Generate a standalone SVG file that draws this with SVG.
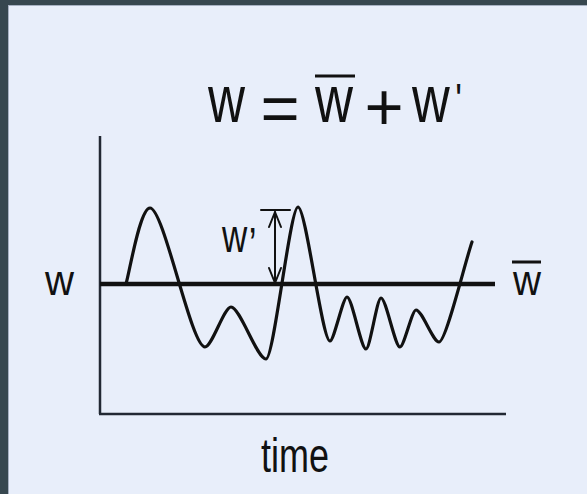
<svg xmlns="http://www.w3.org/2000/svg" width="587" height="494" viewBox="0 0 587 494">
  <style>
    .t { font-family: "Liberation Sans", Arial, sans-serif; fill: #111; }
    .ax { stroke: #222833; stroke-width: 2.5; fill: none; }
    .ln { stroke: #111; fill: none; stroke-linecap: round; stroke-linejoin: round; }
  </style>
  <rect x="0" y="0" width="587" height="494" fill="#37474f"/>
  <rect x="8.5" y="5.5" width="579" height="489" fill="#e8eefa" stroke="#a7b1c2" stroke-width="1"/>

  <g id="title">
    <text class="t" x="208" y="122" font-size="67" textLength="37" lengthAdjust="spacingAndGlyphs">w</text>
    <text class="t" x="280" y="131" font-size="67" text-anchor="middle">=</text>
    <text class="t" x="315" y="122" font-size="67" textLength="38" lengthAdjust="spacingAndGlyphs">w</text>
    <line x1="315" y1="76" x2="355" y2="76" stroke="#111" stroke-width="3"/>
    <text class="t" x="384" y="130" font-size="67" text-anchor="middle">+</text>
    <text class="t" font-size="67" transform="translate(412,122) scale(0.78,1)">w<tspan font-size="45" dx="7" dy="-7">'</tspan></text>
  </g>

  <g id="axes">
    <line class="ax" x1="100" y1="136" x2="100" y2="414"/>
    <line class="ax" x1="99" y1="414" x2="506" y2="414"/>
  </g>

  <g id="mean-line">
    <line x1="100" y1="284" x2="495" y2="284" stroke="#111" stroke-width="4.5"/>
  </g>

  <g id="signal">
    <path class="ln" stroke-width="3.2" d="M126,284 C130,270 140,208 150,208 C164,208 191,347 205,347 C212,347 224,307 231,307 C240,307 257,359 266,359 C274,359 290,207 298,207 C306,207 322,341 330,341 C334,341 343,297 347,297 C352,297 361,349 366,349 C370,349 377,298 381,298 C386,298 395,347 400,347 C404,347 412,310 416,310 C422,310 433,342 439,342 C446,342 465,262 472,242"/>
  </g>

  <g id="connectors">
    <line class="ln" stroke-width="2" x1="261" y1="210" x2="290" y2="210"/>
    <line class="ln" stroke-width="2" x1="275" y1="212" x2="275" y2="283"/>
    <polyline class="ln" stroke-width="2" points="269,227 275,212 281,227"/>
    <polyline class="ln" stroke-width="2" points="269,268 275,283 281,268"/>
  </g>

  <g id="label-w-prime">
    <text class="t" font-size="46" transform="translate(222,252) scale(0.76,1)">w<tspan dx="2" dy="8">’</tspan></text>
  </g>

  <g id="label-w">
    <text class="t" x="45" y="295" font-size="43" textLength="29" lengthAdjust="spacingAndGlyphs">w</text>
  </g>

  <g id="label-w-bar">
    <text class="t" x="513" y="295" font-size="43" textLength="28" lengthAdjust="spacingAndGlyphs">w</text>
    <line x1="512" y1="262" x2="541" y2="262" stroke="#111" stroke-width="3"/>
  </g>

  <g id="label-time">
    <text class="t" x="261" y="472" font-size="49" textLength="68" lengthAdjust="spacingAndGlyphs">time</text>
  </g>
</svg>
